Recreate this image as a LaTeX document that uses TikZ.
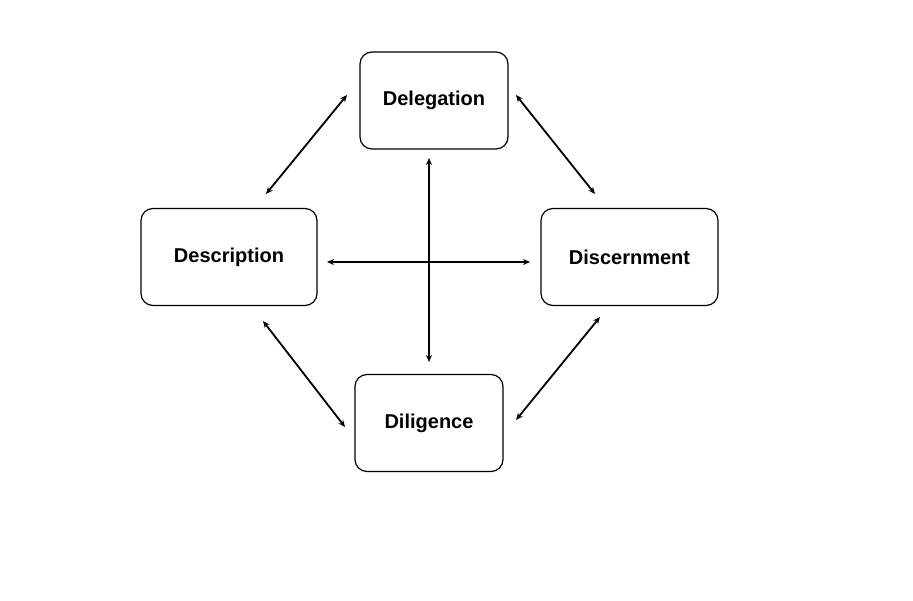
\documentclass[tikz,border=0pt]{standalone}
\usepackage{fontspec}
\setmainfont{Liberation Sans}
\usetikzlibrary{arrows.meta}
\begin{document}
\begin{tikzpicture}[x=1pt,y=-1pt,
  box/.style={draw,line width=1.2pt,rounded corners=12pt,minimum width=#1,minimum height=97pt,inner sep=0pt,font=\fontsize{20}{24}\selectfont\bfseries},
  link/.style={line width=1.8pt,{Stealth[length=7pt,width=6pt]}-{Stealth[length=7pt,width=6pt]}}]
\useasboundingbox (0,0) rectangle (913,601);
\node[box=148pt] (del) at (434,100.5) {Delegation};
\node[box=176pt] (des) at (229,257) {Description};
\node[box=177pt] (dis) at (629.5,257) {Discernment};
\node[box=148pt] (dil) at (429,423) {Diligence};
\coordinate (a1) at (347,95); \coordinate (a2) at (266,194);
\coordinate (b1) at (516,95); \coordinate (b2) at (595,194);
\coordinate (c1) at (263,321); \coordinate (c2) at (345,427);
\coordinate (d1) at (600,317); \coordinate (d2) at (516,420);
\coordinate (v1) at (429,158); \coordinate (v2) at (429,362);
\coordinate (h1) at (327,262); \coordinate (h2) at (530,262);
\draw[link] (a1) -- (a2);
\draw[link] (b1) -- (b2);
\draw[link] (c1) -- (c2);
\draw[link] (d1) -- (d2);
\draw[link] (v1) -- (v2);
\draw[link] (h1) -- (h2);
\end{tikzpicture}
\end{document}
